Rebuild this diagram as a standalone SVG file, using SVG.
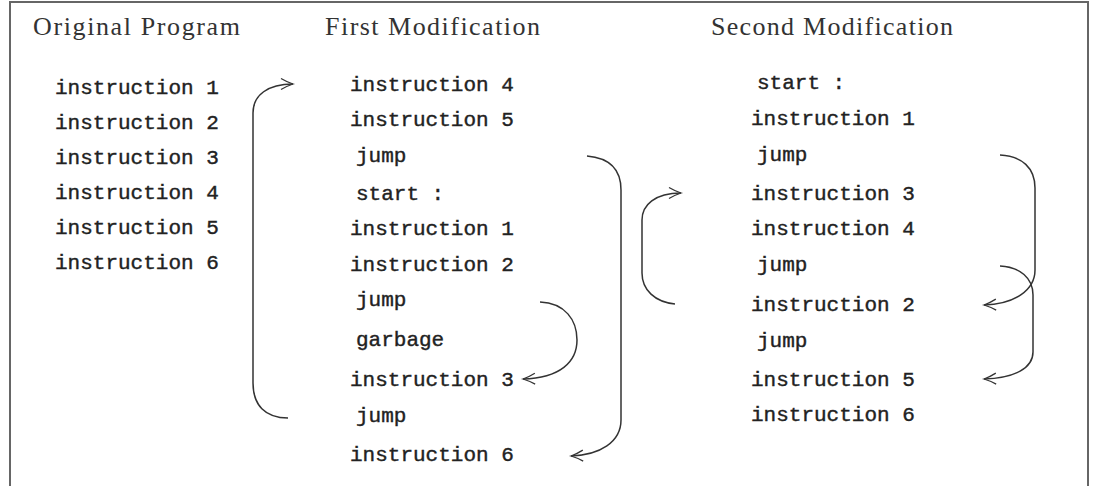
<svg xmlns="http://www.w3.org/2000/svg" width="1095" height="486" viewBox="0 0 1095 486">
<style>
.title{font-family:"Liberation Serif",serif;font-size:26px;fill:#333}
.code{font-family:"Liberation Mono",monospace;font-size:21px;fill:#222;stroke:#222;stroke-width:0.4}
.conn{fill:none;stroke:#333;stroke-width:1.5}
</style>
<defs>
<marker id="arr" markerUnits="userSpaceOnUse" markerWidth="16" markerHeight="14" refX="0" refY="0" viewBox="-13 -7 16 14" orient="auto">
<path d="M -12 -5.5 Q -6 -2 0 0 Q -6 2 -12 5.5" fill="none" stroke="#333" stroke-width="1.3"/>
</marker>
</defs>
<rect x="10" y="2" width="1078" height="500" fill="#fff" stroke="#666" stroke-width="2"/>
<g id="titles">
<text class="title" x="33" y="35" textLength="207">Original Program</text>
<text class="title" x="325" y="35" textLength="215">First Modification</text>
<text class="title" x="711" y="35" textLength="242">Second Modification</text>
</g>
<g id="original">
<text class="code" x="55" y="94">instruction 1</text>
<text class="code" x="55" y="129">instruction 2</text>
<text class="code" x="55" y="164">instruction 3</text>
<text class="code" x="55" y="199">instruction 4</text>
<text class="code" x="55" y="234">instruction 5</text>
<text class="code" x="55" y="269">instruction 6</text>
</g>
<g id="first">
<text class="code" x="350" y="91">instruction 4</text>
<text class="code" x="350" y="126">instruction 5</text>
<text class="code" x="356" y="162">jump</text>
<text class="code" x="356" y="200">start :</text>
<text class="code" x="350" y="235">instruction 1</text>
<text class="code" x="350" y="271">instruction 2</text>
<text class="code" x="356" y="306">jump</text>
<text class="code" x="356" y="346">garbage</text>
<text class="code" x="350" y="386">instruction 3</text>
<text class="code" x="356" y="422">jump</text>
<text class="code" x="350" y="461">instruction 6</text>
</g>
<g id="second">
<text class="code" x="757" y="89">start :</text>
<text class="code" x="751" y="125">instruction 1</text>
<text class="code" x="757" y="161">jump</text>
<text class="code" x="751" y="200">instruction 3</text>
<text class="code" x="751" y="235">instruction 4</text>
<text class="code" x="757" y="271">jump</text>
<text class="code" x="751" y="311">instruction 2</text>
<text class="code" x="757" y="347">jump</text>
<text class="code" x="751" y="386">instruction 5</text>
<text class="code" x="751" y="421">instruction 6</text>
</g>
<g id="connectors">
<path class="conn" marker-end="url(#arr)" d="M 288 418 C 265 418 253 405 253 383 L 253 113 C 253 95 268 84 293 84"/>
<path class="conn" marker-end="url(#arr)" d="M 587 156 C 610 158 621 170 621 190 L 621 420 C 621 442 600 455 571 456"/>
<path class="conn" marker-end="url(#arr)" d="M 540 302 C 565 303 577 320 577 340 C 577 362 560 378 523 379"/>
<path class="conn" marker-end="url(#arr)" d="M 675 304 C 655 302 642 290 642 273 L 642 220 C 642 205 655 193 681 193"/>
<path class="conn" marker-end="url(#arr)" d="M 1000 155 C 1022 156 1035 168 1035 188 L 1035 270 C 1035 290 1015 304 984 305"/>
<path class="conn" marker-end="url(#arr)" d="M 1000 266 C 1020 267 1033 278 1033 295 L 1033 352 C 1033 368 1015 378 984 379"/>
</g>
</svg>
